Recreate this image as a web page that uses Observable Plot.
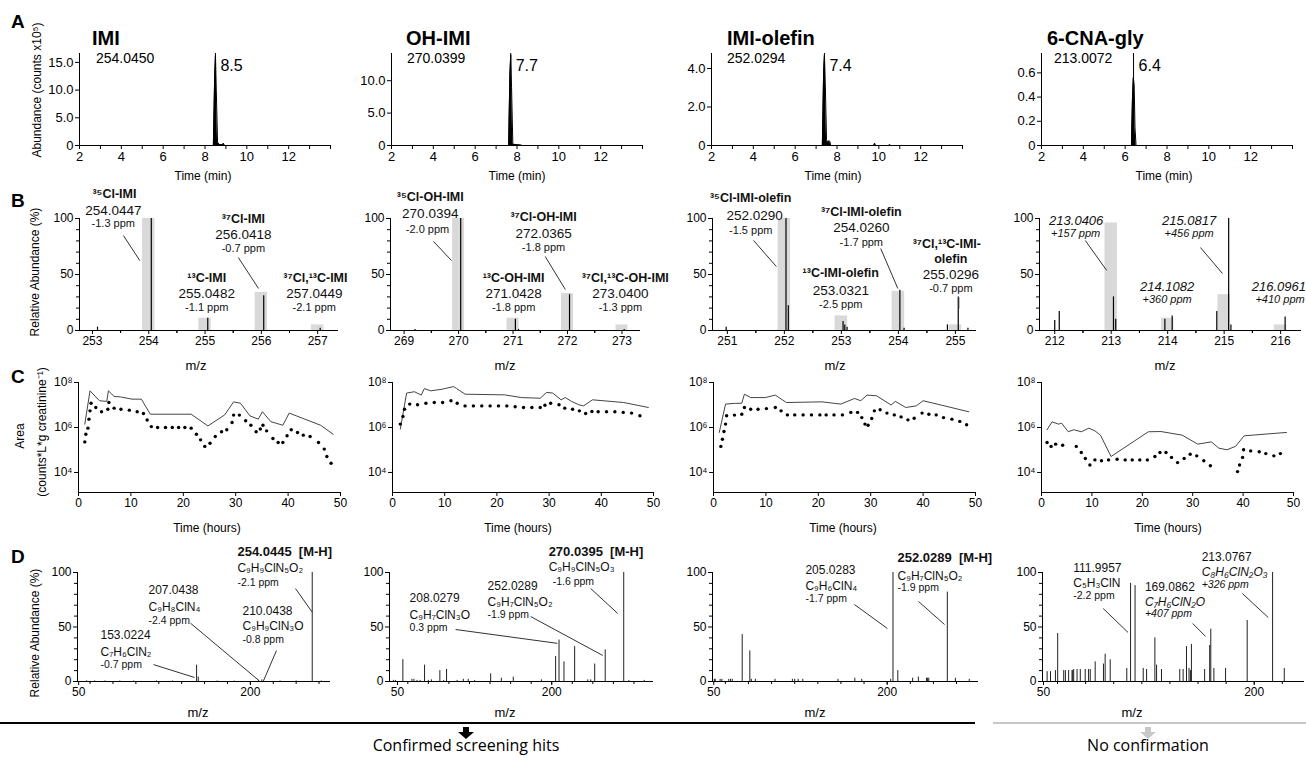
<!DOCTYPE html>
<html><head><meta charset="utf-8">
<script src="https://cdn.jsdelivr.net/npm/d3@7"></script>
<script src="https://cdn.jsdelivr.net/npm/@observablehq/plot@0.6"></script>
<style>
html,body{margin:0;padding:0;background:#fff;}
#fig{position:relative;width:1306px;height:758px;overflow:hidden;background:#fff;font-family:"Liberation Sans",Arial,Helvetica,sans-serif;color:#000;}
.abs{position:absolute;white-space:nowrap;line-height:1;}
</style></head>
<body><div id="fig"></div>
<script>
// ================= DATA =================
// Row A – extracted ion chromatograms
const compounds = ["IMI", "OH-IMI", "IMI-olefin", "6-CNA-gly"];
const eicMz = ["254.0450", "270.0399", "252.0294", "213.0072"];
const eicRT = [8.5, 7.7, 7.4, 6.4];
const eicYMax = [16.6, 14.2, 4.78, 0.76];
const eicYTicks = [[0, 5, 10, 15], [0, 5, 10], [0, 2, 4], [0, 0.2, 0.4, 0.6]];
const eicTime = [
  [2, 8.40, 8.46, 8.50, 8.54, 8.60, 8.68, 8.84, 8.88, 8.93, 14],
  [2, 7.60, 7.66, 7.70, 7.74, 7.80, 8.20, 8.25, 14],
  [2, 7.30, 7.36, 7.40, 7.44, 7.50, 7.58, 7.62, 7.66, 7.70, 9.76, 9.80, 9.84, 10.48, 10.52, 10.56, 14],
  [2, 6.30, 6.35, 6.39, 6.43, 6.47, 6.52, 14]
];
const eicAbund = [
  [0, 0, 12, 16.3, 10, 0.6, 0.2, 0.1, 0.4, 0, 0],
  [0, 0, 11, 14.0, 9, 0.2, 0.05, 0, 0],
  [0, 0, 3.8, 4.7, 3.2, 0.3, 0.1, 0.25, 0.2, 0, 0, 0.12, 0, 0, 0.05, 0, 0],
  [0, 0, 0.40, 0.56, 0.50, 0.15, 0, 0]
];

// Row B – isotope patterns (grey = theoretical, black = measured)
const isoXDomain = [[252.77, 257.37], [268.75, 273.34], [250.74, 255.37], [211.73, 216.37]];
const isoXTicks = [[253, 254, 255, 256, 257], [269, 270, 271, 272, 273], [251, 252, 253, 254, 255], [212, 213, 214, 215, 216]];
const isoBarMz = [[254, 255, 256, 257], [270, 271, 272, 273], [252, 253, 254, 255], [213, 214, 215, 216]];
const isoBarPct = [[100, 11, 34, 5], [100, 11, 33, 5], [100, 13, 35, 5], [96, 11, 32, 5]];
const isoPeaks = [
  [[253.09, 3], [254.045, 100], [255.048, 11], [256.042, 31], [257.045, 2]],
  [[269.2, 1], [270.039, 100], [271.043, 10], [271.1, 1], [272.037, 32], [273.04, 1]],
  [[250.98, 3], [252.029, 100], [252.07, 22], [253.03, 8], [253.06, 5], [253.1, 3], [254.026, 36], [254.1, 2], [254.86, 5], [255.05, 30], [255.22, 2]],
  [[212.0, 9], [212.08, 17], [213.04, 30], [213.08, 10], [213.95, 10], [214.08, 13], [214.87, 17], [215.08, 100], [215.12, 5], [216.08, 12]]
];
const isoNotes = [
  [["³⁵Cl-IMI", 253.39, 122.3, "name"], ["254.0447", 253.37, 107.1, "mass"], ["-1.3 ppm", 253.37, 95.5, "ppm"],
   ["³⁷Cl-IMI", 255.68, 100, "name"], ["256.0418", 255.68, 85.7, "mass"], ["-0.7 ppm", 255.68, 73.2, "ppm"],
   ["¹³C-IMI", 255.03, 47.3, "name"], ["255.0482", 255.03, 33, "mass"], ["-1.1 ppm", 255.03, 20.5, "ppm"],
   ["³⁷Cl,¹³C-IMI", 256.96, 47.3, "name"], ["257.0449", 256.94, 33, "mass"], ["-2.1 ppm", 256.94, 20.5, "ppm"]],
  [["³⁵Cl-OH-IMI", 269.48, 119.6, "name"], ["270.0394", 269.48, 104.5, "mass"], ["-2.0 ppm", 269.43, 90.2, "ppm"],
   ["³⁷Cl-OH-IMI", 271.56, 100.9, "name"], ["272.0365", 271.56, 86.6, "mass"], ["-1.8 ppm", 271.56, 74.1, "ppm"],
   ["¹³C-OH-IMI", 271.01, 47.3, "name"], ["271.0428", 271.01, 33, "mass"], ["-1.8 ppm", 271.01, 20.5, "ppm"],
   ["³⁷Cl,¹³C-OH-IMI", 273.06, 47.3, "name"], ["273.0400", 272.97, 33, "mass"], ["-1.3 ppm", 272.97, 20.5, "ppm"]],
  [["³⁵Cl-IMI-olefin", 251.41, 117.9, "name"], ["252.0290", 251.48, 102.7, "mass"], ["-1.5 ppm", 251.41, 89.3, "ppm"],
   ["³⁷Cl-IMI-olefin", 253.35, 105.4, "name"], ["254.0260", 253.35, 92, "mass"], ["-1.7 ppm", 253.35, 78.6, "ppm"],
   ["¹³C-IMI-olefin", 252.99, 50.9, "name"], ["253.0321", 252.99, 35.7, "mass"], ["-2.5 ppm", 252.99, 23.2, "ppm"],
   ["³⁷Cl,¹³C-IMI-", 254.85, 77, "name"], ["olefin", 254.92, 63.8, "name"], ["255.0296", 254.92, 49.8, "mass"], ["-0.7 ppm", 254.92, 37.5, "ppm"]],
  [["213.0406", 212.38, 98.2, "imass"], ["+157 ppm", 212.37, 86.6, "ippm"],
   ["215.0817", 214.38, 98.2, "imass"], ["+456 ppm", 214.38, 86.6, "ippm"],
   ["214.1082", 213.99, 39.3, "imass"], ["+360 ppm", 213.99, 27.7, "ippm"],
   ["216.0961", 215.97, 39.3, "imass"], ["+410 ppm", 215.99, 27.7, "ippm"]]
];
const isoLeaders = [
  [[253.55, 84.8, 253.84, 62.5], [255.59, 65.2, 255.95, 37.5]],
  [[269.54, 79.5, 269.87, 62.5], [271.59, 66.1, 271.96, 36.6]],
  [[251.46, 80.4, 251.86, 57.1], [253.69, 73.2, 253.99, 37.5], [255.06, 29.5, 255.06, 19.6]],
  [[212.54, 80.4, 212.92, 53.6], [214.58, 74.1, 214.97, 50.9]]
];

// Row C – excretion time courses: [hours, log10(area)]
const areaLineIMI = [[1.2,6.15],[2.2,7.63],[4.0,7.19],[5.4,7.16],[5.7,7.63],[6.8,7.38],[8.0,7.36],[10.2,7.26],[12.0,7.26],[13.7,6.59],[21.5,6.59],[24.7,6.07],[27.9,6.56],[29.6,7.14],[30.9,7.08],[32.7,6.52],[34.3,6.37],[35.1,6.70],[36.7,6.26],[39.0,6.10],[40.2,6.64],[46.2,6.10],[48.6,5.70]];
const areaDotsIMI = [[1.2,5.36],[1.4,5.70],[1.8,5.97],[2.0,6.37],[2.2,6.74],[2.4,7.08],[3.3,6.89],[4.4,6.70],[5.6,6.81],[5.8,7.11],[6.8,6.86],[8.1,6.81],[9.7,6.77],[11.2,6.70],[12.4,6.62],[13.1,6.33],[13.9,6.04],[15.1,6.0],[16.6,6.0],[17.9,6.0],[19.1,6.0],[20.3,6.0],[21.5,5.97],[22.5,5.70],[23.3,5.45],[24.1,5.16],[25.1,5.30],[26.1,5.60],[27.3,5.81],[28.3,5.90],[29.3,6.22],[29.6,6.55],[30.7,6.55],[31.9,6.30],[32.9,6.10],[33.9,5.81],[34.7,5.93],[35.2,6.10],[35.9,5.85],[37.1,5.51],[38.1,5.33],[39.0,5.33],[39.8,5.63],[40.6,5.90],[41.8,5.78],[42.9,5.66],[44.2,5.60],[45.8,5.33],[46.9,5.04],[47.4,4.71],[48.2,4.41]];
const areaLineOH = [[1.5,5.93],[2.7,7.53],[4.2,7.59],[5.5,7.44],[6.1,7.73],[7.3,7.63],[9.5,7.70],[11.7,7.82],[12.3,7.73],[13.9,7.48],[21.5,7.45],[24.7,7.33],[28.3,7.30],[29.5,7.56],[30.7,7.53],[32.3,7.23],[33.1,7.33],[34.3,7.16],[35.7,7.01],[36.6,6.96],[38.3,7.23],[44.3,7.11],[49.0,6.89]];
const areaDotsOH = [[1.5,6.15],[2.0,6.49],[2.3,6.81],[3.3,7.04],[4.8,7.01],[6.4,7.08],[8.0,7.11],[9.6,7.11],[11.2,7.19],[12.4,7.08],[13.9,6.96],[15.5,6.96],[17.1,6.96],[18.7,6.96],[20.3,6.96],[21.9,6.96],[23.5,6.92],[25.1,6.89],[26.7,6.89],[28.3,6.89],[29.2,6.99],[30.3,7.08],[31.9,7.01],[33.0,6.86],[34.5,6.81],[35.8,6.74],[37.0,6.62],[38.2,6.71],[39.4,6.70],[41.0,6.70],[42.6,6.70],[44.2,6.67],[45.8,6.64],[47.4,6.52]];
const areaLineOlefin = [[1.1,5.78],[2.3,7.04],[4.0,7.07],[5.4,7.08],[5.9,7.48],[7.1,7.33],[9.9,7.33],[11.8,7.44],[13.9,7.11],[20.7,7.14],[24.3,7.04],[26.9,7.29],[28.1,7.19],[29.3,7.44],[31.1,7.41],[33.9,7.0],[34.7,7.16],[36.7,6.89],[38.7,6.96],[40.0,7.19],[48.7,6.70]];
const areaDotsOlefin = [[1.4,5.16],[1.7,5.48],[2.0,5.82],[2.3,6.15],[2.5,6.52],[4.0,6.55],[5.4,6.59],[5.9,6.89],[7.1,6.81],[8.5,6.81],[10.1,6.84],[11.8,6.89],[12.9,6.74],[14.1,6.56],[15.5,6.56],[17.1,6.56],[18.7,6.56],[20.3,6.56],[21.5,6.56],[23.0,6.56],[24.6,6.56],[26.2,6.67],[27.5,6.67],[28.3,6.44],[28.9,6.15],[29.5,6.10],[30.2,6.40],[30.7,6.74],[31.8,6.79],[33.1,6.64],[34.5,6.56],[35.8,6.47],[37.1,6.34],[38.3,6.41],[39.8,6.64],[41.1,6.59],[42.5,6.56],[43.9,6.44],[45.5,6.37],[47.0,6.27],[48.3,6.12]];
const areaLineGly = [[1.1,5.90],[2.1,6.25],[3.4,6.15],[4.0,6.19],[5.3,5.81],[6.4,5.90],[7.9,5.81],[9.4,5.97],[10.6,5.85],[11.7,5.66],[13.8,4.71],[21.2,5.81],[23.7,5.82],[27.9,5.66],[31.0,5.26],[33.7,5.36],[35.2,5.08],[36.8,5.01],[38.5,5.16],[40.2,5.63],[48.6,5.78]];
const areaDotsGly = [[1.1,5.33],[1.9,5.16],[2.8,5.26],[4.2,5.21],[6.9,5.16],[7.9,4.89],[8.7,4.62],[9.6,4.33],[10.6,4.56],[11.9,4.52],[13.3,4.56],[15.0,4.59],[16.6,4.56],[18.0,4.56],[19.5,4.56],[21.0,4.56],[22.5,4.71],[23.5,4.89],[24.7,4.89],[25.8,4.67],[27.0,4.44],[28.3,4.62],[29.5,4.81],[30.8,4.74],[32.2,4.52],[33.5,4.30],[38.9,4.04],[39.3,4.33],[39.9,4.67],[40.1,5.01],[41.5,4.96],[43.2,4.92],[44.5,4.84],[46.1,4.74],[47.4,4.84]];
const areaLines = [areaLineIMI, areaLineOH, areaLineOlefin, areaLineGly];
const areaDots = [areaDotsIMI, areaDotsOH, areaDotsOlefin, areaDotsGly];

// Row D – MS/MS spectra: [m/z, relative abundance %]
const msmsXDomain = [[49, 270], [42.2, 299], [48.9, 279], [49.3, 235.8]];
const msmsIMI = [[254.04,100],[153.02,15],[154.5,4],[210.04,1.5],[207.04,1],[57,0.6],[64,0.5],[73,0.5],[86,0.5],[98,0.4],[118,0.5],[132,0.5],[171,0.5],[186,0.4],[226,0.5],[240,0.5],[262,0.5]];
const msmsOH = [[270.04,100],[252.03,29],[241.8,16],[222.3,32],[211.9,18],[207.1,38],[203.8,23],[162.6,4],[151,3],[140.6,7],[118.8,2],[114,2],[97.7,11],[91.2,10],[76.3,15],[55.2,20],[46,1],[48,1],[64,2],[66,2],[69,1],[72,1],[80,1],[83,1.5],[95,1],[108,1],[125,1],[190,1.5],[235,1.5],[238,1.5],[275,1],[290,1]];
const msmsOlefin = [[252.03,82],[205.03,100],[209.2,10],[74.6,43],[81.2,28],[50.5,2],[51.3,2],[55.5,2],[57,2],[63,2],[64.5,2],[66,2],[82.5,2],[86,2],[103,2],[118,2],[120,2],[123,2],[127,2],[157.5,2],[172,3],[178,2],[203,2],[222,3],[227,4],[234,3],[235,3],[236,3],[259,3],[271,2]];
const msmsGly = [[213.08,100],[221.4,12],[195,56],[179.6,12],[171.3,12],[169.09,48],[168.3,33],[164.7,11],[155.3,34],[151.8,32],[147,11],[149.4,11],[153.6,12],[154.6,10],[134,11],[130.5,15],[129.3,40],[123.4,11],[121,12],[115.2,88],[111.99,90],[109.3,12],[97.5,20],[93.9,25],[92.7,16],[86.8,18],[83.3,11],[82.1,11],[79.7,11],[76.2,11],[73.9,11],[71.5,11],[70.3,10],[70.8,10],[67.9,10],[65.6,10],[64.4,10],[60.1,44],[58.5,10],[55,9],[52.6,9]];
const msmsPeaks = [msmsIMI, msmsOH, msmsOlefin, msmsGly];
const msmsNotes = [
  [["254.0445\u00a0\u00a0[M-H]", 188.7, 119.3, "ion"], ["C₉H₉ClN₅O₂", 188.7, 103.7, "formula"], ["-2.1 ppm", 188.7, 90.8, "ppm"],
   ["207.0438", 111, 84, "mass"], ["C₉H₈ClN₄", 111, 67.9, "formula"], ["-2.4 ppm", 111, 55.5, "ppm"],
   ["210.0438", 193.1, 64.7, "mass"], ["C₉H₉ClN₃O", 193.1, 50.5, "formula"], ["-0.8 ppm", 193.1, 38, "ppm"],
   ["153.0224", 69.1, 42.7, "mass"], ["C₇H₆ClN₂", 69.1, 26.6, "formula"], ["-0.7 ppm", 69.1, 15.5, "ppm"]],
  [["270.0395\u00a0\u00a0[M-H]", 197, 119.3, "ion"], ["C₉H₉ClN₅O₃", 197, 104.6, "formula"], ["-1.6 ppm", 200.9, 91.7, "ppm"],
   ["252.0289", 137.6, 87.7, "mass"], ["C₉H₇ClN₅O₂", 137.6, 72.6, "formula"], ["-1.9 ppm", 137.6, 61, "ppm"],
   ["208.0279", 61.7, 76.6, "mass"], ["C₉H₇ClN₃O", 61.7, 61.1, "formula"], ["0.3 ppm", 61.7, 49, "ppm"]],
  [["252.0289\u00a0\u00a0[M-H]", 208.9, 113.8, "ion"], ["C₉H₇ClN₅O₂", 208.9, 96.8, "formula"], ["-1.9 ppm", 208.9, 85.7, "ppm"],
   ["205.0283", 129.3, 102.3, "mass"], ["C₉H₆ClN₄", 129.3, 87.7, "formula"], ["-1.7 ppm", 129.3, 75.6, "ppm"]],
  [["213.0767", 162.6, 114.3, "mass"], ["C₈H₆ClN₂O₃", 162.6, 100.5, "iformula"], ["+326 ppm", 162.6, 88.5, "ippm"],
   ["111.9957", 71.2, 104.2, "mass"], ["C₅H₃ClN", 71.2, 90.4, "formula"], ["-2.2 ppm", 71.2, 78.4, "ppm"],
   ["169.0862", 122.2, 86.7, "mass"], ["C₇H₆ClN₂O", 122.2, 73, "iformula"], ["+407 ppm", 122.2, 61.9, "ippm"]]
];
const msmsLeaders = [
  [[239.4, 85.3, 254.2, 63.3], [147.7, 53.5, 207.9, 0.5], [222.8, 28.4, 211.4, 0.5], [115.4, 15.5, 151.2, 3.7]],
  [[237.9, 85.3, 264.2, 62.4], [179.5, 59.6, 249.6, 23.9], [106.5, 47.7, 205.5, 35]],
  [[227.1, 73.4, 249.6, 52.3], [171.7, 70.6, 200.2, 48.6]],
  [[191.6, 80.7, 210, 58.7], [92.5, 67, 110.2, 45], [156.2, 53.2, 165.4, 41.3]]
];

// ================= LAYOUT =================
const FONT = '"Liberation Sans", Arial, Helvetica, sans-serif';
const fig = document.getElementById("fig");
const colA = [[79, 330], [391, 642], [711, 962], [1041, 1292]];
const colB = [[79, 338], [390, 640], [712, 976], [1039, 1301]];
const colC = [[78, 340], [392, 653], [713, 975], [1041, 1293]];
const colD = [[77, 330], [389, 653], [712, 978], [1042, 1304]];
const rowA = [53, 145], rowB = [218, 330], rowC = [382, 492], rowD = [572, 681];

function addPlot(xr, yr, m, opts) {
  const [ml, mr, mt, mb] = m;
  const svg = Plot.plot({
    width: (xr[1] - xr[0]) + ml + mr, height: (yr[1] - yr[0]) + mt + mb,
    marginLeft: ml, marginRight: mr, marginTop: mt, marginBottom: mb,
    style: {background: "none", fontFamily: FONT, fontSize: "12px", color: "#000", overflow: "visible"},
    ...opts
  });
  svg.style.position = "absolute";
  svg.style.left = (xr[0] - ml) + "px";
  svg.style.top = (yr[0] - mt) + "px";
  svg.style.maxWidth = "none";
  fig.appendChild(svg);
}
function label(text, x, y, o = {}) {
  const d = document.createElement("div");
  d.className = "abs";
  d.textContent = text;
  const tx = o.anchor === "start" ? 0 : o.anchor === "end" ? -100 : -50;
  d.style.left = x + "px"; d.style.top = y + "px";
  d.style.fontSize = (o.size || 12) + "px";
  d.style.fontWeight = o.weight || "normal";
  d.style.fontStyle = o.style || "normal";
  if (o.family) d.style.fontFamily = o.family;
  if (o.color) d.style.color = o.color;
  d.style.transform = `translate(${tx}%,-50%)` + (o.rotate ? ` rotate(${o.rotate}deg)` : "");
  fig.appendChild(d);
}
const axisCommon = {tickSize: 4, tickPadding: 2, label: null, stroke: "#000"};
const blank = () => "";
const sup = {"0":"⁰","1":"¹","2":"²","3":"³","4":"⁴","5":"⁵","6":"⁶","7":"⁷","8":"⁸","9":"⁹"};

// ----- Row A -----
for (let i = 0; i < 4; i++) {
  const trace = eicTime[i].map((t, j) => ({t, a: eicAbund[i][j]}));
  const top = eicYMax[i];
  const fmt = d => d === 0 ? "0" : d.toFixed(1);
  addPlot(colA[i], rowA, [45, 20, 10, 25], {
    x: {domain: [2, 14]}, y: {domain: [0, top]},
    marks: [
      Plot.areaY(trace, {x: "t", y: "a", fill: "#000"}),
      Plot.line(trace, {x: "t", y: "a", stroke: "#000", strokeWidth: 1}),
      Plot.ruleX([eicRT[i]], {x: d => d, y1: 0, y2: top, stroke: "#000", strokeWidth: 1}),
      Plot.text([eicRT[i]], {x: d => d, y: top * 0.87, text: d => d.toFixed(1), textAnchor: "start", dx: 5, fontSize: 16}),
      Plot.ruleX([2], {stroke: "#000"}),
      Plot.ruleY([0], {stroke: "#000"}),
      Plot.axisX([2, 4, 6, 8, 10, 12], {...axisCommon, fontSize: 13}),
      Plot.axisX([3, 5, 7, 9, 11, 13, 14], {...axisCommon, tickFormat: blank}),
      Plot.axisY(eicYTicks[i], {...axisCommon, tickFormat: fmt, fontSize: 13})
    ]
  });
  label(compounds[i], [92, 406, 727, 1047][i], 38, {anchor: "start", size: 20, weight: "bold"});
  label(eicMz[i], [96, 407, 727, 1054][i], 58, {anchor: "start", size: 14});
  label("Time (min)", [203, 517, 833, 1164][i], 176, {size: 12});
}

// ----- Row B -----
const noteStyle = {
  name: {fontSize: 12.5, fontWeight: "bold"},
  mass: {fontSize: 13.5},
  ppm: {fontSize: 11},
  imass: {fontSize: 13, fontStyle: "italic"},
  ippm: {fontSize: 11, fontStyle: "italic"}
};
for (let i = 0; i < 4; i++) {
  const bars = isoBarMz[i].map((mz, j) => ({mz, pct: isoBarPct[i][j]}));
  const peaks = isoPeaks[i].map(([mz, pct]) => ({mz, pct}));
  const notes = isoNotes[i].map(([t, x, y, k]) => ({t, x, y, k}));
  const leaders = isoLeaders[i].map(([x1, y1, x2, y2]) => ({x1, y1, x2, y2}));
  const dom = isoXDomain[i];
  const halves = isoXTicks[i].flatMap(v => [v - 0.5, v + 0.5]).filter(v => v > dom[0] && v < dom[1]);
  addPlot(colB[i], rowB, [40, 70, 45, 25], {
    x: {domain: dom}, y: {domain: [0, 100]},
    marks: [
      Plot.rect(bars, {x1: d => d.mz - 0.11, x2: d => d.mz + 0.11, y1: 0, y2: "pct", fill: "#d9d9d9"}),
      Plot.ruleX(peaks, {x: "mz", y1: 0, y2: "pct", stroke: "#000", strokeWidth: 1.2}),
      Plot.link(leaders, {x1: "x1", y1: "y1", x2: "x2", y2: "y2", stroke: "#333", strokeWidth: 1}),
      ...Object.entries(noteStyle).map(([k, s]) =>
        Plot.text(notes.filter(d => d.k === k), {x: "x", y: "y", text: "t", fill: "#111", ...s})),
      Plot.ruleX([dom[0]], {stroke: "#000"}),
      Plot.ruleY([0], {stroke: "#000"}),
      Plot.axisX(isoXTicks[i], {...axisCommon, fontSize: 12}),
      Plot.axisX(halves, {...axisCommon, tickSize: 3, tickFormat: blank}),
      Plot.axisY([0, 50, 100], {...axisCommon, fontSize: 12}),
      Plot.axisY([10, 20, 30, 40, 60, 70, 80, 90], {...axisCommon, tickSize: 3, tickFormat: blank})
    ]
  });
  label("m/z", [196, 505, 835, 1165][i], 365, {size: 13});
}

// ----- Row C -----
for (let i = 0; i < 4; i++) {
  const line = areaLines[i].map(([h, v]) => ({h, a: 10 ** v}));
  const dots = areaDots[i].map(([h, v]) => ({h, a: 10 ** v}));
  const yMin = 10 ** 3.11;
  addPlot(colC[i], rowC, [40, 15, 10, 25], {
    x: {domain: [0, 50]}, y: {type: "log", domain: [yMin, 1e8]},
    marks: [
      Plot.line(line, {x: "h", y: "a", stroke: "#444", strokeWidth: 1}),
      Plot.dot(dots, {x: "h", y: "a", r: 1.7, fill: "#000", stroke: "none"}),
      Plot.ruleX([0], {stroke: "#000"}),
      Plot.ruleY([yMin], {stroke: "#000"}),
      Plot.axisX([0, 10, 20, 30, 40, 50], {...axisCommon, fontSize: 12}),
      Plot.axisY([1e4, 1e6, 1e8], {...axisCommon, fontSize: 12,
        tickFormat: d => "10" + String(Math.round(Math.log10(d))).split("").map(c => sup[c]).join("")})
    ]
  });
  label("Time (hours)", [207, 518, 843, 1168][i], 528, {size: 12});
}

// ----- Row D -----
const msmsStyle = {
  ion: {fontSize: 13, fontWeight: "bold"},
  mass: {fontSize: 12},
  formula: {fontSize: 12},
  ppm: {fontSize: 10.5},
  iformula: {fontSize: 12, fontStyle: "italic"},
  ippm: {fontSize: 10.5, fontStyle: "italic"}
};
for (let i = 0; i < 4; i++) {
  const peaks = msmsPeaks[i].map(([mz, pct]) => ({mz, pct}));
  const notes = msmsNotes[i].map(([t, x, y, k]) => ({t, x, y, k}));
  const leaders = msmsLeaders[i].map(([x1, y1, x2, y2]) => ({x1, y1, x2, y2}));
  const dom = msmsXDomain[i];
  const minor = d3.range(60, 300, 20).filter(v => v < dom[1]);
  addPlot(colD[i], rowD, [40, 40, 40, 25], {
    x: {domain: dom}, y: {domain: [0, 100]},
    marks: [
      Plot.ruleX(peaks, {x: "mz", y1: 0, y2: "pct", stroke: "#222", strokeWidth: 1}),
      Plot.link(leaders, {x1: "x1", y1: "y1", x2: "x2", y2: "y2", stroke: "#333", strokeWidth: 1}),
      ...Object.entries(msmsStyle).map(([k, s]) =>
        Plot.text(notes.filter(d => d.k === k), {x: "x", y: "y", text: "t", textAnchor: "start", fill: "#111", ...s})),
      Plot.ruleX([dom[0]], {stroke: "#000"}),
      Plot.ruleY([0], {stroke: "#000"}),
      Plot.axisX([50, 200], {...axisCommon, fontSize: 12}),
      Plot.axisX(minor, {...axisCommon, tickSize: 3, tickFormat: blank}),
      Plot.axisY([0, 50, 100], {...axisCommon, fontSize: 12}),
      Plot.axisY([10, 20, 30, 40, 60, 70, 80, 90], {...axisCommon, tickSize: 3, tickFormat: blank})
    ]
  });
  label("m/z", [198, 505, 815, 1132][i], 712, {size: 13});
}

// ----- Panel letters & axis titles -----
label("A", 11, 21, {anchor: "start", size: 19, weight: "bold"});
label("B", 11, 200, {anchor: "start", size: 19, weight: "bold"});
label("C", 11, 376, {anchor: "start", size: 19, weight: "bold"});
label("D", 11, 556, {anchor: "start", size: 19, weight: "bold"});
label("Abundance (counts x10⁵)", 37, 90, {size: 12, rotate: -90});
label("Relative Abundance (%)", 35, 272, {size: 12, rotate: -90});
label("Area", 20, 436, {size: 12, rotate: -90});
label("(counts*L*g creatinine⁻¹)", 42, 432, {size: 12, rotate: -90});
label("Relative Abundance (%)", 35, 633, {size: 12, rotate: -90});

// ----- Bottom conclusion bar -----
function hline(x, y, w, h, color) {
  const d = document.createElement("div");
  d.style.cssText = `position:absolute;left:${x}px;top:${y}px;width:${w}px;height:${h}px;background:${color};`;
  fig.appendChild(d);
}
function arrow(cx, y, color) {
  const d = document.createElement("div");
  d.style.cssText = `position:absolute;left:${cx - 8}px;top:${y}px;width:16px;height:12px;`;
  d.innerHTML = `<svg width="16" height="12"><path d="M5,0 H11 V5 H16 L8,12 L0,5 H5 Z" fill="${color}"/></svg>`;
  fig.appendChild(d);
}
hline(0, 722, 975, 2, "#000");
hline(993, 722, 313, 2, "#c8c8c8");
arrow(466, 725, "#000");
arrow(1148, 725, "#c8c8c8");
label("Confirmed screening hits", 466, 745, {size: 16, family: '"Open Sans", Lato, sans-serif'});
label("No confirmation", 1148, 745, {size: 16, family: '"Open Sans", Lato, sans-serif'});
</script>
</body></html>
